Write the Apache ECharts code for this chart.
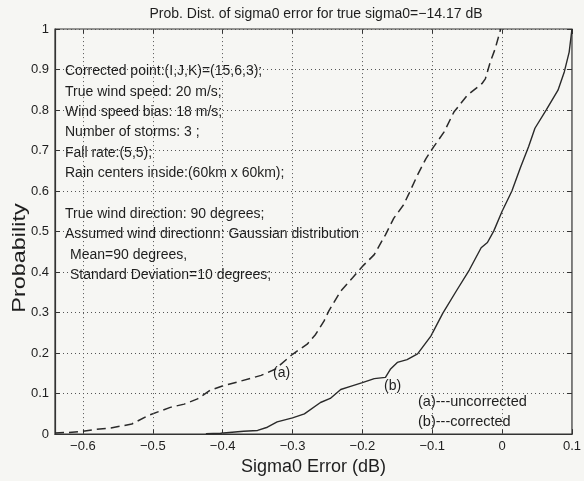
<!DOCTYPE html>
<html>
<head>
<meta charset="utf-8">
<script src="https://cdn.jsdelivr.net/npm/echarts@6/dist/echarts.min.js"></script>
<style>
html,body{margin:0;padding:0;background:#f6f6f3;}
#c{width:584px;height:481px;}
</style>
</head>
<body>
<div id="c"></div>
<script>
// ---- data ----
var xTicks = [-0.6, -0.5, -0.4, -0.3, -0.2, -0.1, 0, 0.1];
var yTicks = [0, 0.1, 0.2, 0.3, 0.4, 0.5, 0.6, 0.7, 0.8, 0.9, 1];
var uncorrectedX = [-0.64, -0.62, -0.6, -0.585, -0.56, -0.53, -0.505, -0.475, -0.455, -0.436, -0.418, -0.398, -0.38, -0.345, -0.325, -0.3, -0.279, -0.267, -0.255, -0.248, -0.231, -0.214, -0.2, -0.183, -0.167, -0.155, -0.141, -0.133, -0.121, -0.109, -0.098, -0.083, -0.069, -0.05, -0.029, -0.024, -0.017, -0.01, -0.002];
var uncorrectedY = [0.003, 0.004, 0.007, 0.011, 0.015, 0.025, 0.047, 0.066, 0.074, 0.087, 0.108, 0.12, 0.128, 0.145, 0.16, 0.197, 0.222, 0.246, 0.279, 0.304, 0.353, 0.386, 0.414, 0.443, 0.492, 0.533, 0.566, 0.595, 0.64, 0.68, 0.709, 0.746, 0.795, 0.836, 0.865, 0.877, 0.918, 0.951, 1.0];
var correctedX = [-0.424, -0.403, -0.37, -0.35, -0.336, -0.322, -0.3, -0.283, -0.26, -0.246, -0.231, -0.217, -0.2, -0.183, -0.167, -0.16, -0.15, -0.136, -0.121, -0.102, -0.085, -0.066, -0.047, -0.03, -0.021, -0.012, 0, 0.014, 0.026, 0.038, 0.047, 0.063, 0.08, 0.089, 0.096, 0.1];
var correctedY = [0.001, 0.002, 0.007, 0.009, 0.017, 0.03, 0.04, 0.05, 0.078, 0.088, 0.11, 0.118, 0.127, 0.137, 0.14, 0.16, 0.177, 0.184, 0.198, 0.242, 0.298, 0.352, 0.405, 0.46, 0.473, 0.501, 0.55, 0.6, 0.657, 0.71, 0.755, 0.8, 0.849, 0.894, 0.943, 1.0];
var titleText = 'Prob. Dist. of sigma0 error for true sigma0=\u221214.17 dB';
var xName = 'Sigma0 Error (dB)';
var yName = 'Probability';
var infoLines = [
  'Corrected point:(I,J,K)=(15,6,3);',
  'True wind speed: 20 m/s;',
  'Wind speed bias: 18 m/s;',
  'Number of storms: 3 ;',
  'Fall rate:(5,5);',
  'Rain centers inside:(60km x 60km);',
  'True wind direction: 90 degrees;',
  'Assumed wind directionn: Gaussian distribution',
  'Mean=90 degrees,',
  'Standard Deviation=10 degrees;'
];
var curveLabels = ['(a)', '(b)'];
var legendLines = ['(a)---uncorrected', '(b)---corrected'];

function zip(a, b) { return a.map(function (v, i) { return [v, b[i]]; }); }
function fmt(v) {
  var s = (Math.round(v * 10) / 10).toString();
  return s.replace('-', '\u2212');
}

var FONT = '"Liberation Sans", Arial, Helvetica, sans-serif';
var TXT = '#1e1e1e';
var chart = echarts.init(document.getElementById('c'), null, { renderer: 'canvas' });

var gridLineStyle = { color: '#555', type: [1, 3], width: 1 };

var option = {
  backgroundColor: '#f6f6f3',
  animation: false,
  grid: { left: 55, right: 8, top: 29, bottom: 43, show: true, borderColor: '#333', borderWidth: 1.2, backgroundColor: 'transparent' },
  xAxis: [{
    type: 'value', min: -0.64, max: 0.1,
    name: xName, nameLocation: 'middle', nameGap: 21,
    nameTextStyle: { fontFamily: FONT, fontSize: 18, color: TXT },
    axisLine: { show: true, onZero: false, lineStyle: { color: '#333', width: 1.2 } },
    axisTick: { show: true, inside: true, length: 5, customValues: xTicks, lineStyle: { color: '#333' } },
    axisLabel: { show: true, customValues: xTicks, margin: 6, fontFamily: FONT, fontSize: 13, color: TXT, formatter: fmt },
    splitLine: { show: false }
  }, {
    type: 'value', min: -0.64, max: 0.1, position: 'top',
    axisLine: { show: false, onZero: false },
    axisTick: { show: true, inside: true, length: 5, customValues: xTicks, lineStyle: { color: '#333' } },
    axisLabel: { show: false },
    splitLine: { show: false }
  }],
  yAxis: [{
    type: 'value', min: 0, max: 1, interval: 0.1, position: 'left',
    axisLine: { show: true, onZero: false, lineStyle: { color: '#333', width: 1.2 } },
    axisTick: { show: true, inside: true, length: 5, lineStyle: { color: '#333' } },
    axisLabel: { margin: 6, fontFamily: FONT, fontSize: 13, color: TXT, formatter: fmt },
    splitLine: { show: true, lineStyle: gridLineStyle }
  }, {
    type: 'value', min: 0, max: 1, interval: 0.1, position: 'right',
    axisLine: { show: false, onZero: false },
    axisTick: { show: true, inside: true, length: 5, lineStyle: { color: '#333' } },
    axisLabel: { show: false },
    splitLine: { show: false }
  }],
  series: [{
    name: 'uncorrected', type: 'line', data: zip(uncorrectedX, uncorrectedY),
    showSymbol: false, symbol: 'none', smooth: false,
    lineStyle: { color: '#2a2a2a', width: 1.5, type: [9, 5] },
    markLine: {
      silent: true, symbol: 'none', label: { show: false },
      lineStyle: gridLineStyle,
      data: xTicks.slice(0, 7).map(function (v) { return { xAxis: v }; })
    },
    z: 3
  }, {
    name: 'corrected', type: 'line', data: zip(correctedX, correctedY),
    showSymbol: false, symbol: 'none', smooth: false,
    lineStyle: { color: '#2a2a2a', width: 1.4, type: 'solid' },
    z: 3
  }]
};

chart.setOption(option);

// text annotations
var g = [];
function txt(t, x, y, size, align, extra) {
  var el = { type: 'text', x: x, y: y, z: 10, style: { text: t, font: size + 'px ' + FONT, fill: TXT, align: align || 'left', verticalAlign: 'middle' } };
  if (extra) { for (var k in extra) el[k] = extra[k]; }
  g.push(el);
}
txt(titleText, 316, 14, 14, 'center');
txt(yName, 20, 258, 18, 'center', { rotation: Math.PI / 2, scaleX: 1.3, scaleY: 1 });
var lineY = [71, 92, 112, 132, 153, 173, 214, 234, 255, 275];
var lineX = [65, 65, 65, 65, 65, 65, 65, 65, 70, 70];
infoLines.forEach(function (t, i) { txt(t, lineX[i], lineY[i], 14); });
txt(curveLabels[0], 273, 373, 14);
txt(curveLabels[1], 384, 386, 14);
txt(legendLines[0], 418, 402, 14.5);
txt(legendLines[1], 418, 422, 14.5);
chart.setOption({ graphic: g });
</script>
</body>
</html>
